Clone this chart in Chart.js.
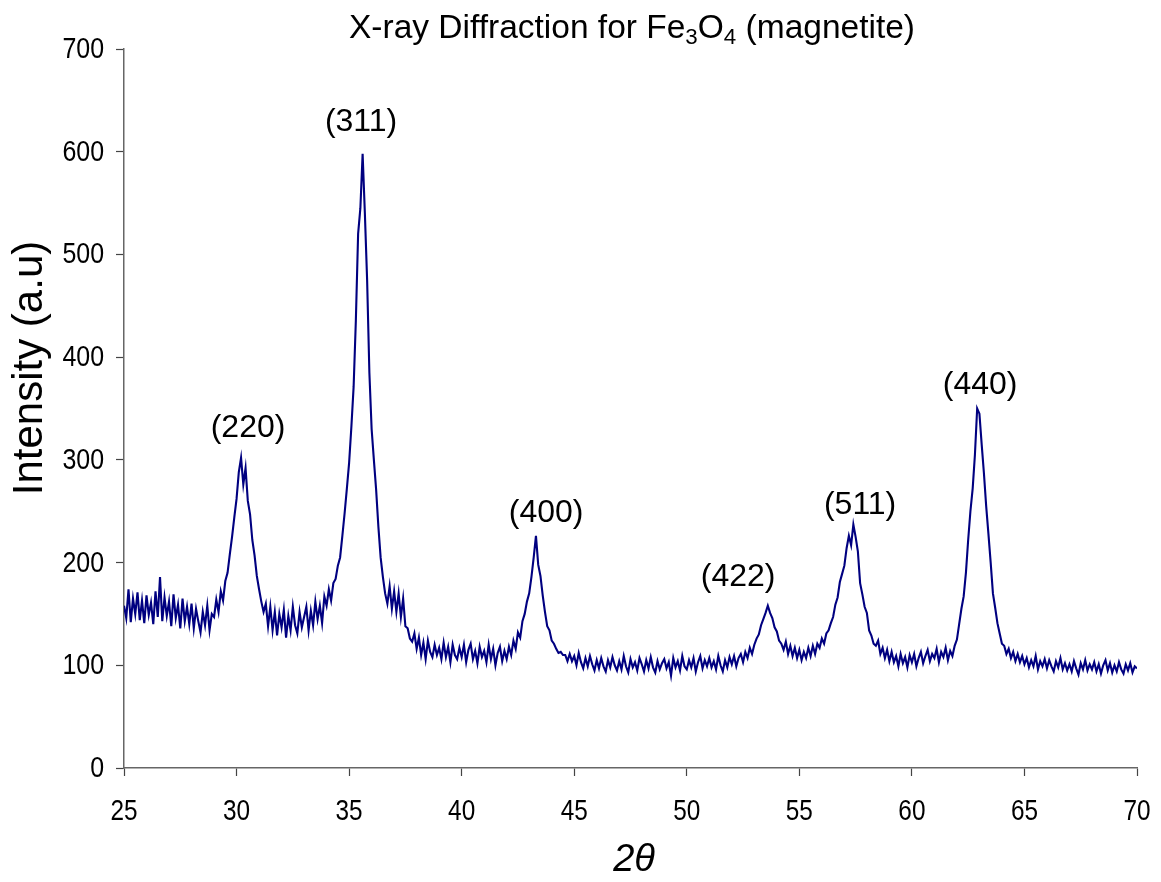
<!DOCTYPE html>
<html>
<head>
<meta charset="utf-8">
<script src="https://cdn.jsdelivr.net/npm/chart.js@4.4.1/dist/chart.umd.min.js"></script>
<style>
  html, body { margin: 0; padding: 0; background: #fff; }
  #wrap { width: 1161px; height: 882px; position: relative; }
</style>
</head>
<body>
<div id="wrap"><canvas id="xrd"></canvas></div>
<script>
'use strict';

const startAngle = 25;
const stepAngle = 0.1;

// * Intensity (a.u.), one row per degree (25.0 ... 25.9, 26.0 ... and so on), last value at 70.0.
const intensity = [
  158, 146, 174, 142, 165, 150, 171, 144, 163, 141,
  168, 149, 161, 140, 172, 147, 186, 143, 166, 148,
  162, 138, 169, 146, 159, 136, 165, 143, 157, 140,
  160, 136, 155, 143, 132, 152, 139, 158, 134, 150,
  147, 164, 152, 172, 163, 182, 190, 208, 225, 244,
  262, 288, 302, 276, 292, 260, 247, 222, 207, 187,
  174, 162, 152, 160, 138, 157, 134, 152, 129, 150,
  137, 154, 127, 148, 134, 157, 139, 131, 152, 137,
  147, 157, 134, 153, 139, 162, 145, 158, 141, 167,
  158, 174, 163, 180, 184, 197, 205, 226, 248, 272,
  297, 332, 371, 436, 520, 545, 598, 540, 475, 385,
  330, 300, 271, 235, 205, 186, 170, 160, 177, 155,
  172, 152, 170, 147, 165, 138, 136, 126, 123, 131,
  116, 127, 110, 122, 106, 124, 113, 108, 120, 110,
  117, 106, 122, 108, 118, 103, 120, 110, 106, 117,
  108, 120, 103, 115, 121, 106, 114, 102, 118, 108,
  114, 103, 120, 106, 116, 100, 112, 118, 104, 114,
  106, 118, 110, 124, 116, 132, 127, 143, 150, 162,
  170, 186, 205, 226, 198, 187, 168, 152, 138, 134,
  124, 121, 116, 112, 113, 110, 110, 104, 111, 104,
  109, 100, 112, 103, 97, 107, 99, 109, 101, 95,
  105, 97, 107, 99, 94, 105, 98, 108, 100, 95,
  104, 96, 109, 99, 93, 106, 98, 103, 95, 107,
  101, 94, 105, 97, 108, 98, 93, 104, 96, 102,
  106, 97, 103, 90, 107, 98, 104, 95, 109, 99,
  96, 105, 98, 107, 94, 103, 109, 97, 105, 99,
  107, 98, 104, 96, 109, 100, 94, 105, 98, 108,
  101, 109, 99, 107, 111, 103, 113, 107, 117, 111,
  120, 126, 130, 139, 145, 151, 158, 151, 146, 137,
  133, 124, 121, 115, 123, 111, 119, 109, 117, 107,
  115, 105, 113, 107, 117, 109, 119, 111, 121, 117,
  126, 121, 131, 134, 141, 147, 159, 166, 181, 189,
  197, 214, 226, 217, 237, 225, 211, 180, 169, 157,
  151, 134, 129, 121, 119, 124, 111, 117, 107, 115,
  104, 113, 103, 109, 99, 111, 102, 108, 98, 110,
  103, 111, 99, 107, 113, 102, 109, 115, 104, 111,
  107, 116, 103, 113, 108, 117, 105, 114, 109, 119,
  125, 140, 155, 167, 190, 222, 250, 272, 305, 350,
  345, 315, 287, 255, 228, 200, 170, 156, 141, 131,
  121, 119, 111, 116, 107, 113, 104, 111, 103, 109,
  101, 107, 98, 105, 99, 109, 96, 104, 99, 106,
  97, 105, 99, 94, 104, 98, 107, 96, 102, 95,
  101, 94, 104, 97, 91, 102, 96, 105, 95, 101,
  96, 103, 94, 101, 92, 100, 105, 95, 102, 93,
  100, 94, 103, 96, 92, 101, 95, 102, 93, 99,
  97,
];

// * Miller indices written over the peaks, and where each label sits (2theta, intensity).
const peakNames = ['(220)', '(311)', '(400)', '(422)', '(511)', '(440)'];
const peakLabelAngles = [30.51, 35.53, 43.75, 52.28, 57.70, 63.03];
const peakLabelHeights = [331, 629, 248, 186, 256, 373];

const FONT = "'Liberation Sans', Arial, sans-serif";

const points = intensity.map((v, i) => ({ x: +(startAngle + i * stepAngle).toFixed(2), y: v }));

// * Draws text squeezed sideways, the chart's font looks narrow and tall.
function narrowText(ctx, text, x, y, sx) {
  ctx.save();
  ctx.translate(x, y);
  ctx.scale(sx, 1);
  ctx.fillText(text, 0, 0);
  ctx.restore();
}

// * Texts that Chart.js cannot draw on its own (subscripts, narrow tick labels, peak labels, axis titles).
const textPlugin = {
  id: 'xrdTexts',
  afterDraw(chart) {
    const { ctx, scales } = chart;
    ctx.save();
    ctx.fillStyle = '#000';

    // title with subscripts
    const parts = [
      ['X-ray Diffraction for Fe', false], ['3', true], ['O', false], ['4', true], [' (magnetite)', false],
    ];
    const big = `33px ${FONT}`;
    const small = `22px ${FONT}`;
    let w = 0;
    parts.forEach(([t, sub]) => { ctx.font = sub ? small : big; w += ctx.measureText(t).width; });
    const targetW = 566;
    const sx = targetW / w;
    ctx.save();
    ctx.translate(632 - targetW / 2, 38);
    ctx.scale(sx, 1);
    ctx.textBaseline = 'alphabetic';
    ctx.textAlign = 'left';
    let cx = 0;
    parts.forEach(([t, sub]) => {
      ctx.font = sub ? small : big;
      ctx.fillText(t, cx, sub ? 6 : 0);
      cx += ctx.measureText(t).width;
    });
    ctx.restore();

    // tick labels
    ctx.font = `29px ${FONT}`;
    ctx.textBaseline = 'middle';
    ctx.textAlign = 'right';
    scales.y.ticks.forEach((t) => {
      narrowText(ctx, String(t.value), 104, scales.y.getPixelForValue(t.value) + 1, 0.86);
    });
    ctx.textAlign = 'center';
    scales.x.ticks.forEach((t) => {
      narrowText(ctx, String(t.value), scales.x.getPixelForValue(t.value), 812, 0.84);
    });

    // peak labels
    ctx.font = `32px ${FONT}`;
    ctx.textAlign = 'center';
    ctx.textBaseline = 'middle';
    peakNames.forEach((name, i) => {
      ctx.fillText(name, scales.x.getPixelForValue(peakLabelAngles[i]), scales.y.getPixelForValue(peakLabelHeights[i]));
    });

    // y axis title
    ctx.save();
    ctx.translate(42, 368);
    ctx.rotate(-Math.PI / 2);
    ctx.font = `42px ${FONT}`;
    ctx.textBaseline = 'alphabetic';
    ctx.fillText('Intensity (a.u)', 0, 0);
    ctx.restore();

    // x axis title
    ctx.font = `italic 38px ${FONT}`;
    ctx.textBaseline = 'middle';
    ctx.fillText('2\u03B8', 634, 860);

    ctx.restore();
  },
};

const axisTicks = {
  drawOnChartArea: false,
  drawTicks: true,
  tickLength: 8,
  tickWidth: 1.2,
  color: '#444',
};

window.addEventListener('load', () => {
  new Chart(document.getElementById('xrd'), {
    type: 'line',
    data: {
      datasets: [{
        data: points,
        borderColor: '#000080',
        borderWidth: 2.1,
        pointRadius: 0,
        tension: 0,
        fill: false,
      }],
    },
    options: {
      responsive: true,
      maintainAspectRatio: false,
      animation: false,
      layout: { padding: { top: 49, right: 24, left: 0, bottom: 0 } },
      plugins: {
        legend: { display: false },
        tooltip: { enabled: false },
        title: { display: false },
      },
      scales: {
        x: {
          type: 'linear',
          min: 25,
          max: 70,
          grid: axisTicks,
          border: { display: true, color: '#666', width: 1.5 },
          ticks: { stepSize: 5, color: 'rgba(0,0,0,0)', padding: 14, maxRotation: 0, font: { family: FONT, size: 25 } },
          afterFit(scale) {
            scale.height = 114;
            scale.paddingLeft = 0;
            scale.paddingRight = 0;
          },
        },
        y: {
          min: 0,
          max: 700,
          grid: axisTicks,
          border: { display: true, color: '#666', width: 1.5 },
          ticks: { stepSize: 100, color: 'rgba(0,0,0,0)', padding: 12, font: { family: FONT, size: 25 } },
          afterFit(scale) {
            scale.width = 124;
            scale.paddingTop = 0;
            scale.paddingBottom = 0;
          },
        },
      },
    },
    plugins: [textPlugin],
  });
});
</script>
</body>
</html>
